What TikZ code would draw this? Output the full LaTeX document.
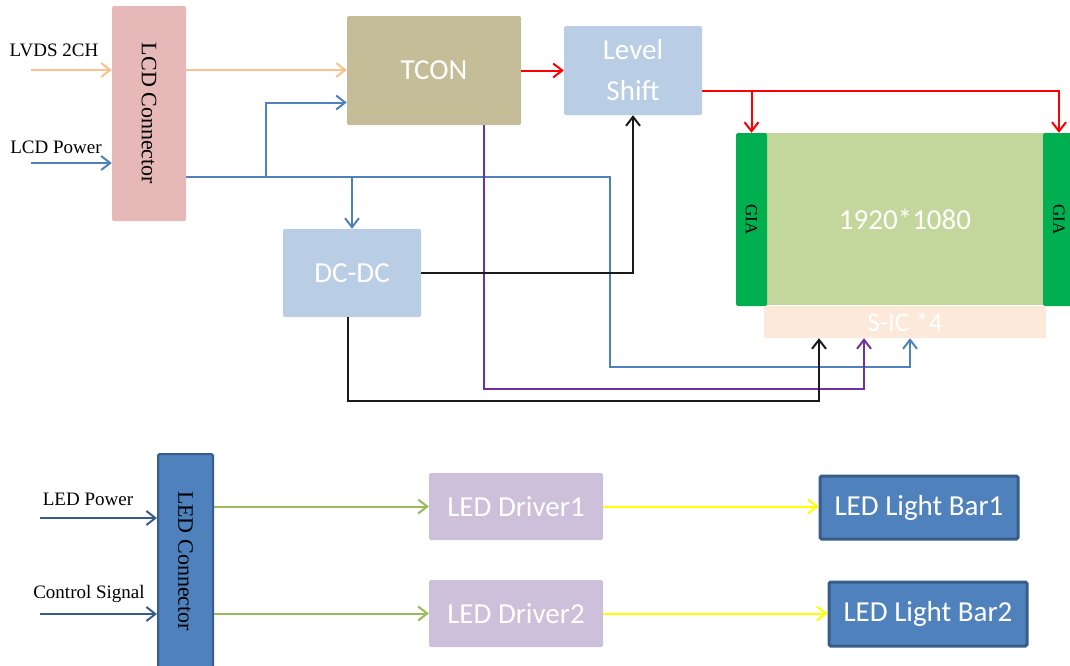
\documentclass[tikz,border=0pt]{standalone}
\usepackage{fontspec}
\setmainfont{Liberation Serif}
\newfontfamily\calibrifont{Carlito}
\usepackage{xcolor}
\usetikzlibrary{arrows.meta,positioning,calc}
\definecolor{pinkbox}{HTML}{E6B9B8}
\definecolor{tanbox}{HTML}{C4BD97}
\definecolor{paleblue}{HTML}{B9CDE5}
\definecolor{panelgreen}{HTML}{C3D69B}
\definecolor{giagreen}{HTML}{00B050}
\definecolor{sicpink}{HTML}{FDE9D9}
\definecolor{lilac}{HTML}{CCC0DA}
\definecolor{ledblue}{HTML}{4F81BD}
\definecolor{darkblue}{HTML}{385D8A}
\definecolor{peach}{HTML}{FAC090}
\definecolor{wirepurple}{HTML}{7030A0}
\definecolor{wiregreen}{HTML}{9BBB59}
\definecolor{wireyellow}{HTML}{FFFF00}
\definecolor{wirered}{HTML}{FF0000}
\definecolor{wireblack}{HTML}{1A1A1A}

\begin{document}
\begin{tikzpicture}[x=1pt,y=-1pt]
    \tikzstyle{blk}=[draw=none, rounded corners=1.5pt, inner sep=0pt, align=center, text=white, font=\fontsize{29}{41}\selectfont\calibrifont]
    \tikzstyle{conn}=[rounded corners=1.5pt, inner sep=0pt]
    \tikzstyle{lbl}=[inner sep=0pt, font=\fontsize{19}{21}\selectfont]
    \tikzstyle{wire}=[line width=2pt]
    \tikzstyle{arr}=[wire, -{Straight Barb[length=9pt,width=14pt]}]
    \useasboundingbox (0,0) rectangle (1070,665);

    % LCD part
    \node[conn, fill=pinkbox, minimum width=74pt, minimum height=215pt,
      label={[rotate=-90, font=\fontsize{22}{24}\selectfont]center:LCD Connector}] (lcd) at (149,113.5) {};
    \node[blk, fill=tanbox, minimum width=174pt, minimum height=109pt] (tcon) at (434,70.5) {TCON};
    \node[blk, fill=paleblue, minimum width=138pt, minimum height=89pt] (ls) at (633,70.5) {Level\\Shift};
    \node[blk, fill=paleblue, minimum width=138pt, minimum height=88pt] (dcdc) at (352,273) {DC-DC};
    \node[blk, rounded corners=0pt, fill=panelgreen, minimum width=280pt, minimum height=172pt] (panel) at (905,219) {1920*1080};
    \node[conn, fill=giagreen, minimum width=31pt, minimum height=173pt,
      label={[rotate=-90, font=\fontsize{17}{19}\selectfont]center:GIA}] (gial) at (751.5,219.5) {};
    \node[conn, fill=giagreen, minimum width=32pt, minimum height=173pt,
      label={[rotate=-90, font=\fontsize{17}{19}\selectfont]center:GIA}] (giar) at (1059,219.5) {};
    \node[blk, rounded corners=0pt, fill=sicpink, minimum width=282pt, minimum height=32pt, font=\fontsize{27}{30}\selectfont\calibrifont] (sic) at (905,322) {S-IC *4};

    \node[lbl] (lvdslbl) at (54,50) {LVDS 2CH};
    \node[lbl] (lcdplbl) at (56,147) {LCD Power};
    \coordinate (lvdsin) at (31,70);
    \coordinate (lcdpin) at (31,163);
    \draw[arr, peach] (lvdsin) -- (lvdsin -| lcd.west);
    \draw[arr, ledblue] (lcdpin) -- (lcdpin -| lcd.west);
    \draw[arr, peach] (lvdsin -| lcd.east) -- (lvdsin -| tcon.west);

    % power bus
    \coordinate (bus) at (610,177);
    \coordinate (tap) at (266,177);
    \coordinate (sicb) at (910,367);
    \draw[arr, ledblue] (lcd.east |- bus) -- (bus) |- (sicb) -- (sicb |- sic.south);
    \draw[arr, ledblue] (tap) |- ($(tcon.west)+(0,32)$);
    \draw[arr, ledblue] (dcdc.north |- bus) -- (dcdc.north);

    % timing signals
    \draw[arr, wirered] (tcon.east) -- (ls.west);
    \coordinate (lsout) at ($(ls.east)+(0,20)$);
    \draw[arr, wirered] (lsout) -| (giar.north);
    \draw[arr, wirered] (lsout -| gial.north) -- (gial.north);
    \coordinate (tcb) at (864,389);
    \draw[arr, wirepurple] ($(tcon.south)+(50,0)$) |- (tcb) -- (tcb |- sic.south);

    % DC-DC outputs
    \draw[arr, wireblack] (dcdc.east) -| (ls.south);
    \coordinate (gndb) at (819,401);
    \draw[arr, wireblack] ($(dcdc.south)+(-4,0)$) |- (gndb) -- (gndb |- sic.south);

    % LED part
    \node[conn, fill=ledblue, draw=darkblue, line width=2pt, minimum width=55pt, minimum height=214pt,
      label={[rotate=-90, font=\fontsize{22}{24}\selectfont]center:LED Connector}] (ledc) at (185.5,561) {};
    \node[blk, fill=lilac, minimum width=174pt, minimum height=67pt] (drv1) at (516,506.5) {LED Driver1};
    \node[blk, fill=lilac, minimum width=174pt, minimum height=67pt] (drv2) at (516,613.5) {LED Driver2};
    \node[blk, fill=ledblue, draw=darkblue, line width=3pt, minimum width=198pt, minimum height=63pt] (bar1) at (919,507.5) {LED Light Bar1};
    \node[blk, fill=ledblue, draw=darkblue, line width=3pt, minimum width=198pt, minimum height=64pt] (bar2) at (928,614) {LED Light Bar2};

    \node[lbl] (ledplbl) at (88,499) {LED Power};
    \node[lbl] (ctllbl) at (89,594) {Control Signal};
    \coordinate (ledpin) at (40,518);
    \coordinate (ctlin) at (40,614);
    \draw[arr, darkblue] (ledpin) -- (ledpin -| ledc.west);
    \draw[arr, darkblue] (ctlin) -- (ctlin -| ledc.west);
    \draw[arr, wiregreen] (drv1 -| ledc.east) -- (drv1.west);
    \draw[arr, wiregreen] (drv2 -| ledc.east) -- (drv2.west);
    \draw[arr, wireyellow] (drv1.east) -- (drv1.east -| bar1.west);
    \draw[arr, wireyellow] (drv2.east) -- (drv2.east -| bar2.west);
\end{tikzpicture}
\end{document}
